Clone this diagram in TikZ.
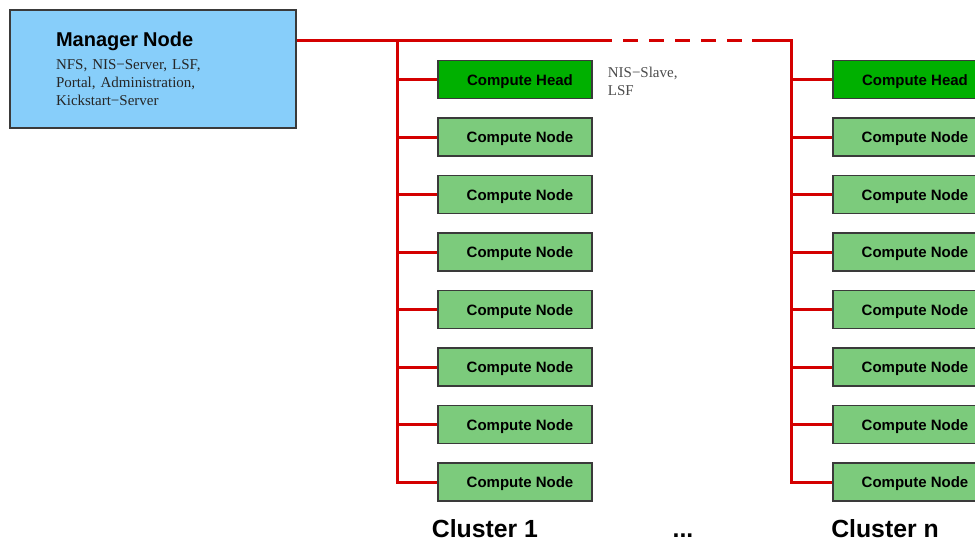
\documentclass[tikz,border=0pt]{standalone}
\usepackage{fontspec}
\setmainfont{Liberation Serif}
\setsansfont{Liberation Sans}
\usetikzlibrary{positioning}

\definecolor{busred}{HTML}{D40000}
\definecolor{mgrblue}{HTML}{87CEFA}
\definecolor{headgreen}{HTML}{00B000}
\definecolor{nodegreen}{HTML}{7CCB7C}
\definecolor{boxline}{HTML}{3A3A3A}

\tikzset{
  bus/.style={busred, line width=3pt},
  box/.style={draw=boxline, line width=1.3pt, minimum width=154pt, minimum height=38pt,
    inner sep=0pt, text height=11pt, text depth=0pt,
    execute at begin node=\hspace*{10pt},
    font=\sffamily\bfseries\fontsize{15}{18}\selectfont},
  headbox/.style={box, fill=headgreen},
  computebox/.style={box, fill=nodegreen},
  manager/.style={draw=boxline, line width=1.3pt, fill=mgrblue, minimum width=286pt,
    minimum height=118pt, text width=194pt, inner xsep=0pt, align=left,
    text=black!85, font=\fontsize{15}{18}\selectfont\frenchspacing},
  note/.style={inner sep=0pt, align=left, text=black!70,
    font=\fontsize{15}{18}\selectfont\frenchspacing},
  clusterlabel/.style={anchor=base, font=\sffamily\bfseries\fontsize{24.8}{28}\selectfont}
}

\begin{document}
\begin{tikzpicture}[x=1pt, y=-1pt]
  \useasboundingbox (0,0) rectangle (975,542);
  \clip (0,0) rectangle (975,542);

  % manager
  \node[manager] (manager) at (153,69)
    {{\color{black}\sffamily\bfseries\fontsize{20}{24}\selectfont Manager Node}\\[5pt]
     NFS, NIS−Server, LSF,\\ Portal, Administration,\\ Kickstart−Server};

  % the two clusters
  \foreach \c/\x in {1/515, n/910} {
    \node[headbox] (head\c) at (\x,79.5) {Compute Head};
    \foreach \i in {1,...,7}
      \node[computebox] (node\c-\i) at (\x,79.5+57.5*\i) {Compute Node};
  }
  \node[note, right=15pt of head1, yshift=-2pt] (headnote) {NIS−Slave,\\LSF};

  % network
  \coordinate (top1) at (397,40);
  \coordinate (end1) at (397,484);
  \coordinate (topn) at (791,40);
  \coordinate (endn) at (791,484);
  \coordinate (gapstart) at (612,40);
  \coordinate (gapend) at (752,40);
  \draw[bus] (manager.east |- top1) -- (gapstart);
  \draw[bus, dash pattern=on 15pt off 11pt, dash phase=15pt] (gapstart) -- (gapend);
  \draw[bus] (gapend) -- (topn) -- (endn);
  \draw[bus] (top1) -- (end1);
  \foreach \c in {1,n} {
    \draw[bus] (top\c |- head\c.west) -- (head\c.west);
    \foreach \i in {1,...,7}
      \draw[bus] (top\c |- node\c-\i.west) -- (node\c-\i.west);
  }

  % cluster names
  \node[clusterlabel] (cluster1) at (485,537) {Cluster 1};
  \node[clusterlabel] (dots) at (683,537) {...};
  \node[clusterlabel] (clustern) at (885,537) {Cluster n};
\end{tikzpicture}
\end{document}
